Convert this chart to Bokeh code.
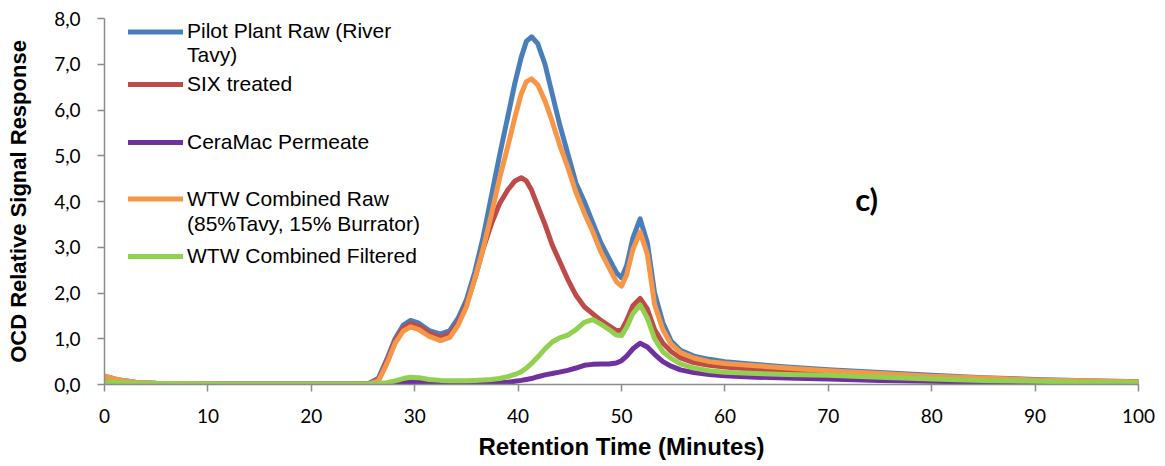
from bokeh.plotting import figure
from bokeh.models import (Range1d, FixedTicker, CustomJSTickFormatter, Legend, LegendItem, Label)
from bokeh.embed import file_html
from bokeh.resources import INLINE

# ---------------- data ----------------
time_min = [0, 1, 2, 3, 5, 8, 12, 16, 20, 24, 25.5, 26.5, 27.3, 28.1, 28.9, 29.6, 30.4, 31.4,
            32.5, 33.4, 34.2, 35.0, 35.8, 36.6, 37.4, 38.2, 39.0, 39.7, 40.3, 40.8, 41.3, 41.9,
            42.6, 43.3, 44.0, 44.8, 45.6, 46.4, 47.2, 48.0, 48.8, 49.5, 50.0, 50.5, 51.1, 51.8,
            52.5, 53.2, 54.0, 54.8, 55.7, 57.0, 58.5, 60, 63, 66, 70, 75, 80, 85, 90, 95, 100]

pilot_raw = [0.18, 0.12, 0.08, 0.05, 0.03, 0.02, 0.01, 0.01, 0.01, 0.01, 0.02, 0.14, 0.55, 1.0,
             1.3, 1.40, 1.34, 1.18, 1.10, 1.18, 1.45, 1.85, 2.45, 3.2, 4.1, 5.0, 5.85, 6.6, 7.15,
             7.5, 7.6, 7.45, 7.0, 6.35, 5.7, 5.05, 4.4, 4.0, 3.55, 3.1, 2.75, 2.45, 2.33, 2.6,
             3.2, 3.62, 3.1, 2.0, 1.35, 0.95, 0.75, 0.62, 0.55, 0.5, 0.44, 0.38, 0.32, 0.26,
             0.2, 0.15, 0.11, 0.08, 0.06]

six_treated = [0.10, 0.07, 0.05, 0.04, 0.02, 0.01, 0.01, 0.01, 0.01, 0.01, 0.01, 0.10, 0.50,
               0.95, 1.23, 1.33, 1.27, 1.12, 1.03, 1.10, 1.35, 1.75, 2.3, 2.95, 3.5, 3.95, 4.25,
               4.45, 4.52, 4.45, 4.25, 3.9, 3.5, 3.05, 2.7, 2.3, 1.95, 1.7, 1.55, 1.4, 1.28, 1.18,
               1.18, 1.4, 1.72, 1.88, 1.65, 1.2, 0.9, 0.72, 0.58, 0.48, 0.42, 0.38, 0.33, 0.29,
               0.25, 0.2, 0.15, 0.12, 0.09, 0.07, 0.05]

ceramac_permeate = [0.02, 0.02, 0.01, 0.01, 0.01, 0.01, 0.01, 0.01, 0.01, 0.01, 0.01, 0.01, 0.01,
                    0.02, 0.04, 0.06, 0.05, 0.03, 0.02, 0.02, 0.02, 0.02, 0.02, 0.02, 0.03, 0.04,
                    0.05, 0.07, 0.09, 0.11, 0.13, 0.17, 0.21, 0.24, 0.27, 0.31, 0.36, 0.42, 0.44,
                    0.45, 0.45, 0.47, 0.52, 0.62, 0.78, 0.90, 0.82, 0.66, 0.5, 0.4, 0.32, 0.26,
                    0.22, 0.19, 0.16, 0.14, 0.12, 0.09, 0.07, 0.05, 0.04, 0.03, 0.03]

wtw_raw = [0.18, 0.12, 0.08, 0.05, 0.03, 0.02, 0.01, 0.01, 0.01, 0.01, 0.01, 0.08, 0.45, 0.9,
           1.17, 1.26, 1.2, 1.05, 0.96, 1.03, 1.3, 1.7, 2.3, 2.95, 3.7, 4.5, 5.2, 5.85, 6.35,
           6.62, 6.68, 6.55, 6.2, 5.75, 5.25, 4.75, 4.2, 3.75, 3.35, 2.9, 2.55, 2.25, 2.15, 2.4,
           2.95, 3.33, 2.85, 1.75, 1.2, 0.88, 0.7, 0.58, 0.5, 0.46, 0.41, 0.36, 0.3, 0.24, 0.18,
           0.14, 0.1, 0.08, 0.06]

wtw_filtered = [0.06, 0.05, 0.04, 0.03, 0.02, 0.01, 0.01, 0.01, 0.01, 0.01, 0.01, 0.02, 0.04,
                0.08, 0.13, 0.16, 0.15, 0.11, 0.09, 0.08, 0.08, 0.08, 0.09, 0.10, 0.11, 0.13,
                0.17, 0.22, 0.28, 0.36, 0.46, 0.6, 0.78, 0.93, 1.02, 1.08, 1.2, 1.36, 1.42, 1.32,
                1.2, 1.08, 1.07, 1.25, 1.55, 1.74, 1.45, 1.0, 0.72, 0.57, 0.45, 0.36, 0.3, 0.27,
                0.24, 0.22, 0.2, 0.16, 0.12, 0.09, 0.07, 0.05, 0.04]

series_names = ["Pilot Plant Raw (River", "SIX treated", "CeraMac Permeate",
                "WTW Combined Raw", "WTW Combined Filtered"]
series_continuation = {0: "Tavy)", 3: "(85%Tavy, 15% Burrator)"}
series_colors = ["#4A7EBB", "#BE4B48", "#7030A0", "#F79646", "#92D050"]
series_values = [pilot_raw, six_treated, ceramac_permeate, wtw_raw, wtw_filtered]

x_ticks = [0, 10, 20, 30, 40, 50, 60, 70, 80, 90, 100]
y_ticks = [0, 1, 2, 3, 4, 5, 6, 7, 8]

# ---------------- figure ----------------
p = figure(width=1165, height=466, output_backend="svg", toolbar_location=None,
           x_range=Range1d(0, 100), y_range=Range1d(0, 8),
           min_border_left=104, min_border_right=27, min_border_top=18, min_border_bottom=82)
p.outline_line_color = None
p.grid.visible = False
p.background_fill_color = "white"
p.border_fill_color = "white"

tick_font = "Lato"
for ax in (p.xaxis[0], p.yaxis[0]):
    ax.axis_line_color = "#8C8C8C"
    ax.axis_line_width = 1.5
    ax.major_tick_line_color = "#8C8C8C"
    ax.major_tick_line_width = 1.5
    ax.major_tick_out = 7
    ax.major_tick_in = 0
    ax.minor_tick_line_color = None
    ax.major_label_text_font = tick_font
    ax.major_label_text_font_size = "19px"
    ax.major_label_text_color = "black"
    ax.axis_label_text_font = "Liberation Sans"
    ax.axis_label_text_font_style = "bold"
    ax.axis_label_text_color = "black"

p.xaxis[0].ticker = FixedTicker(ticks=x_ticks)
p.yaxis[0].ticker = FixedTicker(ticks=y_ticks)
p.yaxis[0].formatter = CustomJSTickFormatter(code="return tick.toFixed(1).replace('.', ',');")
p.xaxis[0].axis_label = "Retention Time (Minutes)"
p.yaxis[0].axis_label = "OCD Relative Signal Response"
p.xaxis[0].axis_label_text_font_size = "24px"
p.yaxis[0].axis_label_text_font_size = "22px"
p.xaxis[0].major_label_standoff = 17
p.yaxis[0].major_label_standoff = 17
p.xaxis[0].axis_label_standoff = 7
p.yaxis[0].axis_label_standoff = 20

renderers = []
for vals, col in zip(series_values, series_colors):
    r = p.line(time_min, vals, line_color=col, line_width=5, line_join="round", line_cap="round")
    renderers.append(r)

dummy = p.line(x=[], y=[], line_alpha=0)

# legends placed like the spreadsheet's stacked legend
legend_rows = [
    ([(series_names[0], renderers[0]), (series_continuation[0], dummy)], 23, 317),
    ([(series_names[1], renderers[1])], 24, 288),
    ([(series_names[2], renderers[2])], 24, 230),
    ([(series_names[3], renderers[3]), (series_continuation[3], dummy)], 25, 148),
    ([(series_names[4], renderers[4])], 24, 116),
]
for items, row_h, vy in legend_rows:
    lg = Legend(items=[LegendItem(label=t, renderers=[r]) for t, r in items],
                location=(24, vy), padding=0, margin=0, spacing=0,
                glyph_width=55, glyph_height=row_h, label_height=row_h, label_standoff=4,
                label_text_font="Liberation Sans", label_text_font_size="21px",
                label_text_color="black", border_line_color=None, background_fill_alpha=0)
    p.add_layout(lg)

p.add_layout(Label(x=72.6, y=4.06, text="c)", text_font="Lato", text_font_style="bold",
                   text_font_size="31px", text_baseline="alphabetic", text_color="black"))

open("out.html", "w").write(file_html(p, INLINE))
